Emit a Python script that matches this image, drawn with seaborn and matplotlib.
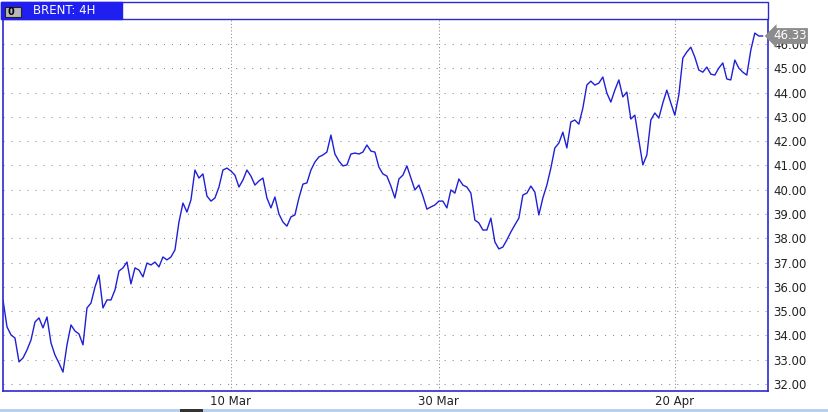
import numpy as np
import pandas as pd
import seaborn as sns
import matplotlib.pyplot as plt
from matplotlib.patches import Rectangle
from matplotlib.transforms import blended_transform_factory

# Cierres de velas de 4 horas
close = [
    35.46, 34.35, 34.02, 33.89, 32.91, 33.07, 33.40, 33.81, 34.55, 34.72,
    34.31, 34.76, 33.69, 33.19, 32.86, 32.49, 33.61, 34.43, 34.18, 34.06,
    33.61, 35.13, 35.33, 35.99, 36.49, 35.13, 35.46, 35.46, 35.87, 36.65,
    36.78, 37.02, 36.12, 36.78, 36.69, 36.41, 36.98, 36.90, 37.02, 36.82,
    37.23, 37.11, 37.23, 37.52, 38.67, 39.45, 39.08, 39.58, 40.81, 40.48,
    40.65, 39.74, 39.53, 39.66, 40.11, 40.81, 40.89, 40.77, 40.60, 40.11,
    40.40, 40.81, 40.56, 40.19, 40.36, 40.48, 39.66, 39.25, 39.70, 39.00,
    38.67, 38.50, 38.88, 38.96, 39.66, 40.23, 40.28, 40.81, 41.14, 41.35,
    41.43, 41.55, 42.25, 41.47, 41.18, 40.98, 41.02, 41.47, 41.51, 41.47,
    41.55, 41.84, 41.59, 41.55, 40.93, 40.65, 40.56, 40.15, 39.66, 40.44,
    40.60, 40.98, 40.48, 39.99, 40.19, 39.74, 39.20, 39.29, 39.37, 39.53,
    39.53, 39.25, 39.99, 39.86, 40.44, 40.19, 40.11, 39.86, 38.75, 38.63,
    38.34, 38.34, 38.83, 37.85, 37.56, 37.64, 37.93, 38.26, 38.55, 38.83,
    39.78, 39.86, 40.15, 39.90, 38.96, 39.66, 40.19, 40.89, 41.72, 41.92,
    42.37, 41.72, 42.79, 42.87, 42.70, 43.36, 44.31, 44.47, 44.31, 44.39,
    44.64, 43.98, 43.61, 44.10, 44.52, 43.82, 44.02, 42.91, 43.07, 42.05,
    41.02, 41.43, 42.87, 43.16, 42.95, 43.57, 44.10, 43.57, 43.07, 43.90,
    45.42, 45.67, 45.87, 45.46, 44.93, 44.84, 45.05, 44.76, 44.72, 45.01,
    45.22, 44.56, 44.52, 45.34, 45.01, 44.84, 44.72, 45.75, 46.45, 46.33,
    46.33,
]
date_labels = ["10 Mar", "30 Mar", "20 Apr"]
date_bars = [57, 109, 168]
price_levels = list(range(32, 47))
symbol = "BRENT: 4H"

df = pd.DataFrame({"bar": np.arange(len(close)), "close": close})

sns.set_style("white")
plt.rcParams["font.family"] = ["DejaVu Sans"]

W, H = 829, 412
fig = plt.figure(figsize=(W / 100, H / 100), dpi=100)
ax = fig.add_axes([3 / W, 21 / H, 765 / W, 372 / H])

sns.lineplot(data=df, x="bar", y="close", ax=ax, color="#1f1fd6", lw=1.0)

ax.set_xlim(0, 191.3)
ax.set_ylim(31.71, 47.03)
ax.yaxis.tick_right()
ax.set_yticks(price_levels)
ax.set_yticklabels([f"{v:.2f}" for v in price_levels])
ax.set_xticks(date_bars)
ax.set_xticklabels(date_labels)
ax.tick_params(axis="y", length=0, labelsize=8.5, colors="#222222", pad=3.6)
ax.tick_params(axis="x", length=0, labelsize=8.5, colors="#222222", pad=3)
ax.set_xlabel("")
ax.set_ylabel("")

ax.grid(axis="y", color="#888888", lw=0.75, ls=(0, (1, 6.7)))
ax.grid(axis="x", color="#888888", lw=0.75, ls=(0, (1, 2.2)))

for s in ax.spines.values():
    s.set_color("#2a2ad0")
    s.set_linewidth(1.2)

# etiqueta del ultimo precio
trans = blended_transform_factory(ax.transAxes, ax.transData)
ax.annotate(f"{close[-1]:.2f}", xy=(1, close[-1]), xycoords=trans,
            xytext=(3.6, 0), textcoords="offset points", ha="left", va="center",
            fontsize=8.5, color="white", annotation_clip=False, zorder=5,
            bbox=dict(boxstyle="larrow,pad=0.12", fc="#8c8c8c", ec="none"))

# cabecera con la pestana del simbolo
ft = fig.transFigure
fig.patches.append(Rectangle((1 / W, (H - 19) / H), 767 / W, 17 / H, transform=ft,
                             fc="white", ec="#2a2ad0", lw=1.0))
fig.patches.append(Rectangle((1 / W, (H - 19) / H), 121 / W, 17 / H, transform=ft,
                             fc="#1f1ff0", ec="#1f1ff0", lw=1.0))
fig.patches.append(Rectangle((5 / W, (H - 17) / H), 16 / W, 10 / H, transform=ft,
                             fc="#b8b8b8", ec="#222222", lw=0.8))
fig.text(11 / W, (H - 12) / H, "0", fontsize=7, weight="bold", color="black",
         ha="center", va="center")
fig.text(33 / W, (H - 11) / H, symbol, fontsize=8.5, color="white",
         ha="left", va="center")

# barra inferior
fig.patches.append(Rectangle((0, 0), 1, 3 / H, transform=ft, fc="#b8cfee", ec="none"))
fig.patches.append(Rectangle((180 / W, 0), 23 / W, 3 / H, transform=ft, fc="#333333", ec="none"))

fig.savefig("out.png", dpi=100)
